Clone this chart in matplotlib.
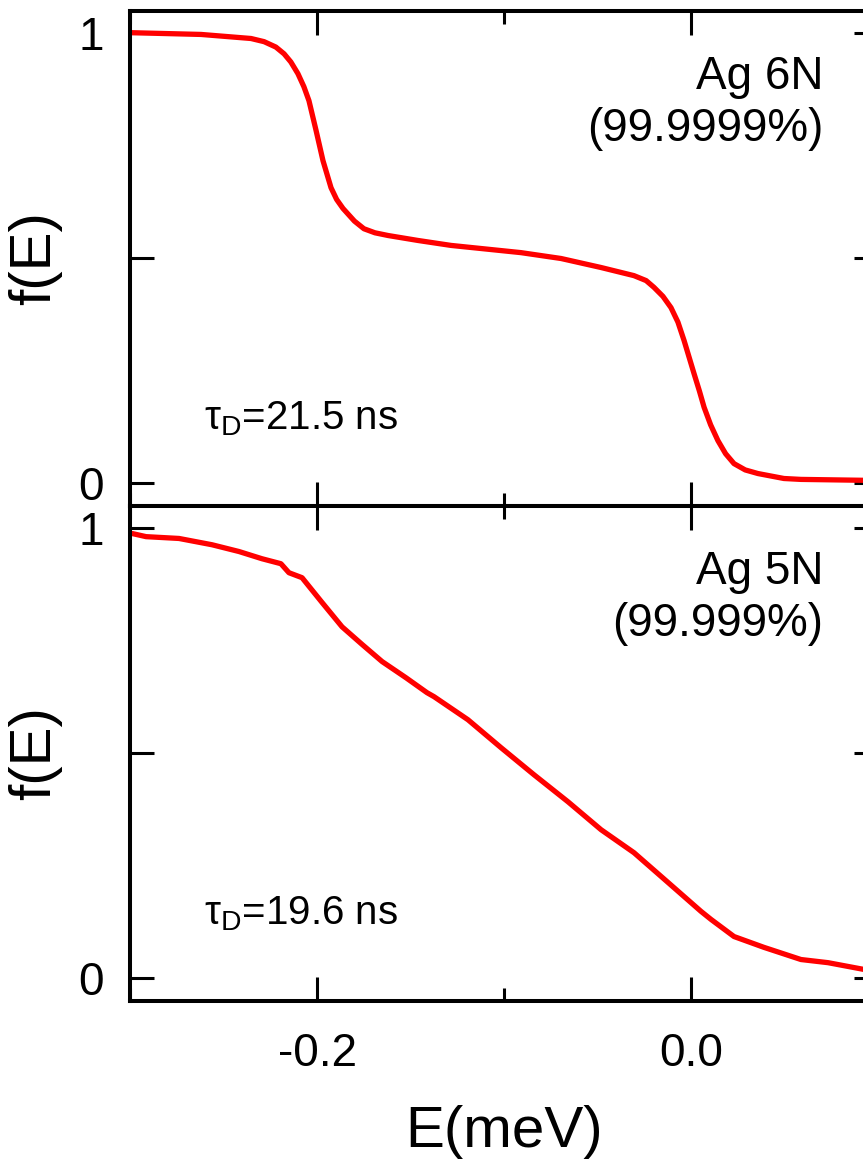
import matplotlib
matplotlib.use("Agg")
import matplotlib.pyplot as plt
from matplotlib.ticker import FixedLocator, FixedFormatter

plt.rcParams['font.family'] = ['Liberation Sans', 'DejaVu Sans']
plt.rcParams['mathtext.fontset'] = 'custom'
plt.rcParams['mathtext.rm'] = 'Liberation Sans'
plt.rcParams['mathtext.it'] = 'Liberation Sans'

# Ag 6N (99.9999%) - double step
e_6n = [-0.3005, -0.2620, -0.2353, -0.2283, -0.2220, -0.2176, -0.2140, -0.2102,
        -0.2070, -0.2043, -0.2005, -0.1968, -0.1925, -0.1895, -0.1861, -0.1800,
        -0.1749, -0.1690, -0.1620, -0.1460, -0.1283, -0.0909, -0.0695, -0.0481,
        -0.0305, -0.0240, -0.0198, -0.0150, -0.0107, -0.0070, -0.0037, 0.0016,
        0.0045, 0.0070, 0.0105, 0.0144, 0.0185, 0.0230, 0.0290, 0.0358,
        0.0497, 0.0588, 0.0925]
f_6n = [1.000, 0.996, 0.987, 0.980, 0.968, 0.953, 0.935, 0.909,
        0.880, 0.849, 0.783, 0.716, 0.656, 0.630, 0.610, 0.582,
        0.565, 0.556, 0.550, 0.539, 0.528, 0.512, 0.499, 0.479,
        0.461, 0.450, 0.435, 0.415, 0.390, 0.358, 0.317, 0.244,
        0.205, 0.169, 0.130, 0.095, 0.066, 0.044, 0.030, 0.022,
        0.011, 0.009, 0.007]

# Ag 5N (99.999%) - smeared
e_5n = [-0.2989, -0.2914, -0.2738, -0.2561, -0.2417, -0.2294, -0.2193, -0.2150,
        -0.2080, -0.1973, -0.1866, -0.1759, -0.1652, -0.1524, -0.1412, -0.1374,
        -0.1193, -0.1016, -0.0840, -0.0658, -0.0481, -0.0305, -0.0123, 0.0053,
        0.0107, 0.0230, 0.0390, 0.0588, 0.0733, 0.0925]
f_5n = [0.987, 0.980, 0.976, 0.962, 0.947, 0.931, 0.920, 0.900,
        0.889, 0.834, 0.780, 0.741, 0.703, 0.667, 0.634, 0.625,
        0.574, 0.512, 0.452, 0.392, 0.330, 0.279, 0.213, 0.149,
        0.131, 0.093, 0.069, 0.042, 0.035, 0.020]

panels = [
    (e_6n, f_6n, "Ag 6N\n(99.9999%)", r"$\mathregular{\tau_D}$=21.5 ns"),
    (e_5n, f_5n, "Ag 5N\n(99.999%)", r"$\mathregular{\tau_D}$=19.6 ns"),
]

fig = plt.figure(figsize=(8.63, 11.69), dpi=100)
W, H = 863.0, 1169.0
left, right = 130 / W, 878 / W
tops = [11, 506]
hpx = 495

for i, (x, y, name, tau) in enumerate(panels):
    top = tops[i]
    ax = fig.add_axes([left, 1 - (top + hpx) / H, right - left, hpx / H])
    ax.plot(x, y, color='#ff0000', lw=3.8, solid_capstyle='round',
            solid_joinstyle='round')
    ax.set_xlim(-0.3, 0.1)
    ax.set_ylim(-0.05, 1.048)
    for s in ax.spines.values():
        s.set_linewidth(2.9)

    ax.yaxis.set_major_locator(FixedLocator([0, 0.5, 1]))
    ax.yaxis.set_major_formatter(FixedFormatter(['0', '', '1']))
    ax.xaxis.set_major_locator(FixedLocator([-0.2, 0.0]))
    ax.xaxis.set_major_formatter(FixedFormatter(['-0.2', '0.0']))
    ax.xaxis.set_minor_locator(FixedLocator([-0.3, -0.1, 0.1]))
    ax.tick_params(which='both', direction='in', top=True, right=True, width=2.2)
    ax.tick_params(which='major', length=17.5)
    ax.tick_params(which='minor', length=9.5)
    ax.tick_params(axis='y', labelsize=33, pad=19)
    ax.tick_params(axis='x', labelsize=33, pad=22)
    if i == 0:
        ax.tick_params(axis='x', labelbottom=False)

    ax.set_ylabel('f(E)', fontsize=42)
    ax.yaxis.set_label_coords(-0.091, 0.5)

    ax.text(0.9265, 0.911, name, transform=ax.transAxes, ha='right', va='top',
            fontsize=33, multialignment='right', linespacing=1.24)
    ax.text(0.099, 0.155, tau, transform=ax.transAxes, ha='left', va='baseline',
            fontsize=29)

    if i == 1:
        ax.set_xlabel('E(meV)', fontsize=42)
        ax.xaxis.set_label_coords(0.5, -0.21)

fig.savefig('out.png', dpi=100)
